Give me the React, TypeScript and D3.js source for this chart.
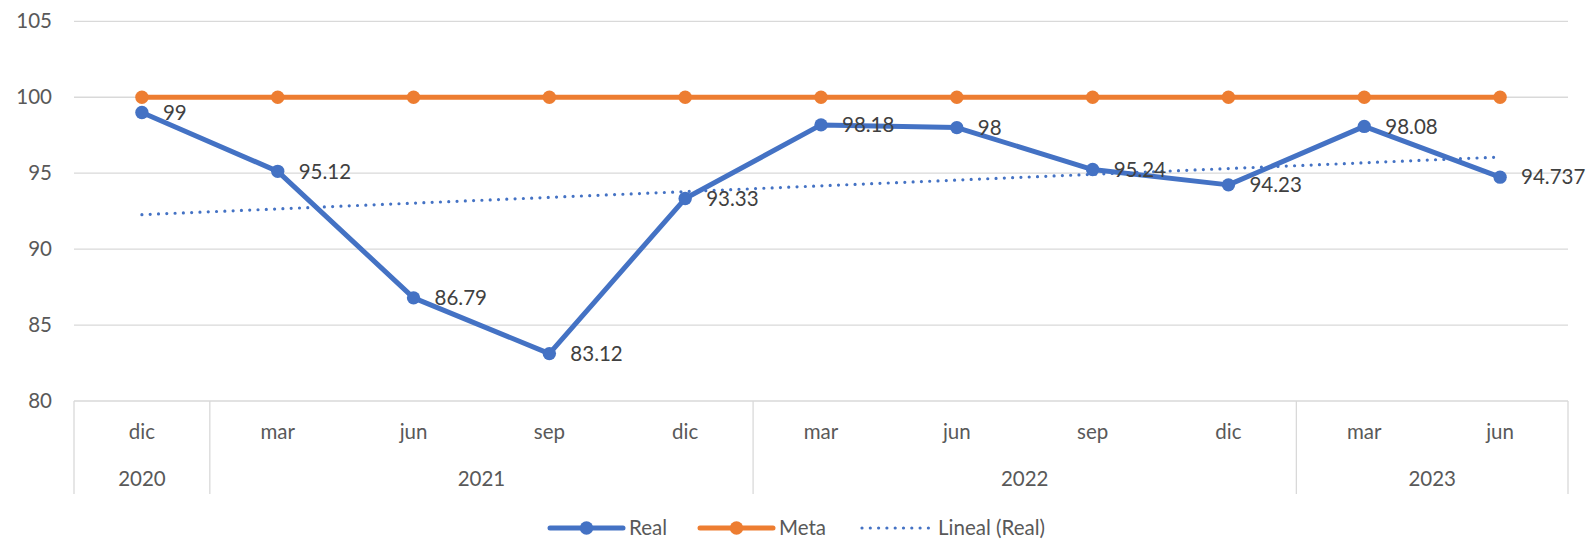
import React from "react";
import * as d3 from "d3";

const months = ["dic", "mar", "jun", "sep", "dic", "mar", "jun", "sep", "dic", "mar", "jun"];
const years = ["2020", "2021", "2021", "2021", "2021", "2022", "2022", "2022", "2022", "2023", "2023"];
const realValues = [99, 95.12, 86.79, 83.12, 93.33, 98.18, 98, 95.24, 94.23, 98.08, 94.737];
const realLabels = ["99", "95.12", "86.79", "83.12", "93.33", "98.18", "98", "95.24", "94.23", "98.08", "94.737"];
const metaValues = [100, 100, 100, 100, 100, 100, 100, 100, 100, 100, 100];
const yTicks = [80, 85, 90, 95, 100, 105];

const W = 1590;
const H = 539;
const FONT = "Lato, 'Open Sans', sans-serif";
const BLUE = "#4472C4";
const ORANGE = "#ED7D31";
const GRID = "#D9D9D9";
const AXIS_TEXT = "#595959";
const LABEL_TEXT = "#404040";

export default function App() {
  const idx = months.map((_, i) => i);
  const x = d3.scaleBand<number>().domain(idx).range([74, 1568]);
  const bw = x.bandwidth();
  const cx = (i: number) => (x(i) as number) + bw / 2;
  const y = d3.scaleLinear().domain([80, 105]).range([401, 21.3]);

  // linear trendline (least squares) of Real
  const n = realValues.length;
  const xs = idx.map((i) => i + 1);
  const mx = d3.mean(xs) as number;
  const my = d3.mean(realValues) as number;
  let num = 0;
  let den = 0;
  xs.forEach((xv, i) => {
    num += (xv - mx) * (realValues[i] - my);
    den += (xv - mx) * (xv - mx);
  });
  const slope = num / den;
  const intercept = my - slope * mx;
  const trend = [0, n - 1].map((i) => ({ i, v: intercept + slope * (i + 1) }));

  const line = d3
    .line<number>()
    .x((_, i) => cx(i))
    .y((d) => y(d));
  const trendLine = d3
    .line<{ i: number; v: number }>()
    .x((d) => cx(d.i))
    .y((d) => y(d.v));

  // year groups
  const groups: { year: string; start: number; end: number }[] = [];
  years.forEach((yr, i) => {
    const last = groups[groups.length - 1];
    if (last && last.year === yr) last.end = i;
    else groups.push({ year: yr, start: i, end: i });
  });
  const boundaries = [x(0) as number, ...groups.map((g) => (x(g.end) as number) + bw)];

  const axisY = y(80);
  const bottomY = 494;
  const LW = 5;
  const R = 6.7;

  return (
    <svg
      width={W}
      height={H}
      style={{ position: "absolute", left: 0, top: 0, background: "#fff" }}
      fontFamily={FONT}
    >
      {/* gridlines */}
      {yTicks.map((t) => (
        <g key={t}>
          {t > 80 && (
            <line x1={74} x2={1568} y1={y(t)} y2={y(t)} stroke={GRID} strokeWidth={1.3} />
          )}
          <text x={52} y={y(t)} dy="0.35em" textAnchor="end" fontSize={20.5} fill={AXIS_TEXT}>
            {t}
          </text>
        </g>
      ))}

      {/* category axis */}
      <line x1={74} x2={1568} y1={axisY} y2={axisY} stroke={GRID} strokeWidth={1.3} />
      {boundaries.map((bx, i) => (
        <line key={i} x1={bx} x2={bx} y1={axisY} y2={bottomY} stroke={GRID} strokeWidth={1.3} />
      ))}
      {months.map((m, i) => (
        <text key={i} x={cx(i)} y={432} dy="0.35em" textAnchor="middle" fontSize={20.5} fill={AXIS_TEXT}>
          {m}
        </text>
      ))}
      {groups.map((g) => (
        <text
          key={g.year}
          x={((x(g.start) as number) + (x(g.end) as number) + bw) / 2}
          y={479}
          dy="0.35em"
          textAnchor="middle"
          fontSize={20.5}
          fill={AXIS_TEXT}
        >
          {g.year}
        </text>
      ))}

      {/* Real series */}
      <path d={line(realValues) || ""} fill="none" stroke={BLUE} strokeWidth={LW} strokeLinejoin="round" />
      {realValues.map((v, i) => (
        <circle key={i} cx={cx(i)} cy={y(v)} r={R} fill={BLUE} />
      ))}

      {/* Meta series */}
      <path d={line(metaValues) || ""} fill="none" stroke={ORANGE} strokeWidth={LW} strokeLinejoin="round" />
      {metaValues.map((v, i) => (
        <circle key={i} cx={cx(i)} cy={y(v)} r={R} fill={ORANGE} />
      ))}

      {/* trendline */}
      <path
        d={trendLine(trend) || ""}
        fill="none"
        stroke={BLUE}
        strokeWidth={3.2}
        strokeDasharray="0 8.3"
        strokeLinecap="round"
      />

      {/* data labels */}
      {realValues.map((v, i) => (
        <text key={i} x={cx(i) + 21} y={y(v)} dy="0.35em" fontSize={20.5} fill={LABEL_TEXT}>
          {realLabels[i]}
        </text>
      ))}

      {/* legend */}
      <g>
        <line x1={550} x2={623} y1={528} y2={528} stroke={BLUE} strokeWidth={LW} strokeLinecap="round" />
        <circle cx={586.5} cy={528} r={R} fill={BLUE} />
        <text x={629} y={528} dy="0.35em" fontSize={20.5} fill={AXIS_TEXT}>Real</text>
        <line x1={700} x2={773} y1={528} y2={528} stroke={ORANGE} strokeWidth={LW} strokeLinecap="round" />
        <circle cx={736.5} cy={528} r={R} fill={ORANGE} />
        <text x={779} y={528} dy="0.35em" fontSize={20.5} fill={AXIS_TEXT}>Meta</text>
        <line
          x1={862}
          x2={931}
          y1={528}
          y2={528}
          stroke={BLUE}
          strokeWidth={3.2}
          strokeDasharray="0 8.3"
          strokeLinecap="round"
        />
        <text x={938} y={528} dy="0.35em" fontSize={20.5} fill={AXIS_TEXT}>Lineal (Real)</text>
      </g>
    </svg>
  );
}
